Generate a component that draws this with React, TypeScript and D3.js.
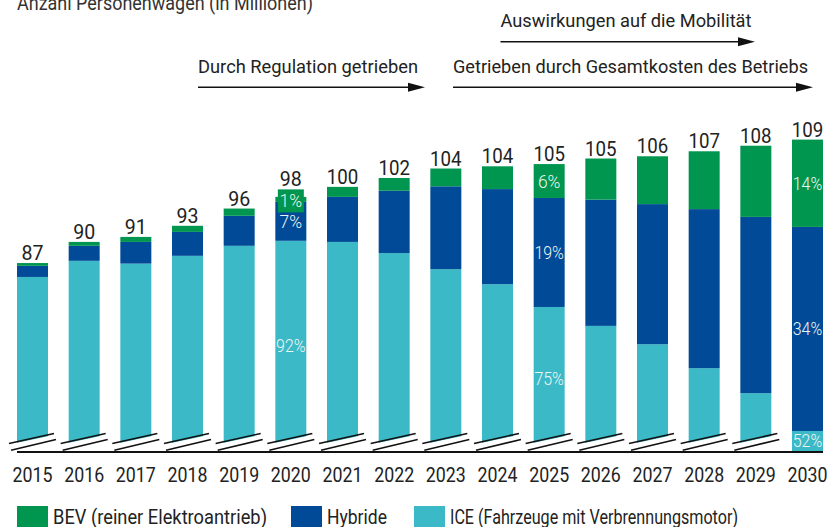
import React from "react";
import * as d3 from "d3";

const years = ["2015","2016","2017","2018","2019","2020","2021","2022","2023","2024","2025","2026","2027","2028","2029","2030"];
const ice = [84.3, 87.2, 86.7, 88.1, 89.9, 90.8, 90.6, 88.6, 85.7, 83.0, 78.9, 75.5, 72.2, 67.9, 63.4, 56.6];
const hybrid = [2.0, 2.7, 3.9, 4.3, 5.4, 7.0, 8.1, 11.2, 14.9, 17.1, 19.6, 22.7, 25.2, 28.6, 31.7, 36.7];
const bev = [0.5, 0.7, 0.9, 1.1, 1.3, 0.9, 1.8, 2.3, 3.2, 4.1, 6.1, 7.4, 8.6, 10.4, 12.8, 15.7];
const totals = [87, 90, 91, 93, 96, 98, 100, 102, 104, 104, 105, 105, 106, 107, 108, 109];

const seriesKeys = ["ice", "hybrid", "bev"];
const legendKeys = ["bev", "hybrid", "ice"];
const seriesNames = ["BEV (reiner Elektroantrieb)", "Hybride", "ICE (Fahrzeuge mit Verbrennungsmotor)"];

const pctLabels = [
  { year: "2020", key: "bev", text: "1%", boxed: true },
  { year: "2020", key: "hybrid", text: "7%" },
  { year: "2020", key: "ice", text: "92%" },
  { year: "2025", key: "bev", text: "6%" },
  { year: "2025", key: "hybrid", text: "19%" },
  { year: "2025", key: "ice", text: "75%" },
  { year: "2030", key: "bev", text: "14%" },
  { year: "2030", key: "hybrid", text: "34%" },
  { year: "2030", key: "ice", text: "52%" },
];

const title = "Anzahl Personenwagen (in Millionen)";
const annotations = [
  "Auswirkungen auf die Mobilität",
  "Durch Regulation getrieben",
  "Getrieben durch Gesamtkosten des Betriebs",
];
const breakYears = years.slice(0, 15);

const colors: Record<string, string> = { bev: "#00964f", hybrid: "#004a97", ice: "#3cb9c6" };
const FONT = "'Roboto', 'Liberation Sans', sans-serif";

function T(props: any) {
  const { w, children, ...rest } = props;
  return (
    <text {...rest} textLength={w} lengthAdjust="spacingAndGlyphs">{children}</text>
  );
}

export default function App() {
  const W = 835, H = 527;
  const x = d3.scaleBand<string>().domain(years).range([17, 823]).paddingInner(0.4).paddingOuter(0);
  const y = d3.scaleLinear().domain([53, 109]).range([451, 139.6]);
  const bw = x.bandwidth();

  const table = years.map((yr, i) => ({ year: yr, ice: ice[i], hybrid: hybrid[i], bev: bev[i] }));
  const stack = d3.stack<any>().keys(seriesKeys)(table);
  const segOf = (yr: string, key: string) => {
    const s = stack.find((d) => d.key === key)!;
    return s[years.indexOf(yr)];
  };
  const bottomY = y(53);

  const annGeom = [
    { x0: 500.5, x1: 755, ly: 41.7, ty: 27, w: 251 },
    { x0: 198, x1: 425, ly: 87.3, ty: 73, w: 220 },
    { x0: 453, x1: 813, ly: 87.3, ty: 73, w: 355 },
  ];
  const legendGeom = [
    { x: 17, w: 214 },
    { x: 291, w: 60 },
    { x: 414, w: 288 },
  ];

  return (
    <div style={{ position: "absolute", left: 0, top: 0 }}>
      <svg width={W} height={H} style={{ display: "block", fontFamily: FONT, fontWeight: 400 }}>
        <rect width={W} height={H} fill="#fff" />
        <T x={17} y={9.5} fontSize={21} fill="#333" w={296}>{title}</T>

        {stack.map((s) => (
          <g key={s.key} fill={colors[s.key]}>
            {s.map((d, i) => (
              <rect key={i} x={x(years[i])} width={bw} y={y(d[1])} height={Math.max(0, y(Math.max(53, d[0])) - y(d[1]))} />
            ))}
          </g>
        ))}

        {breakYears.map((yr) => {
          const x0 = x(yr)!, x1 = x0 + bw;
          return (
            <g key={yr}>
              <polygon points={`${x0 - 1},${bottomY} ${x0 - 1},${443} ${x1 + 1},${436} ${x1 + 1},${bottomY}`} fill="#fff" />
              <line x1={x0 - 8} y1={443.5} x2={x1 + 6} y2={433.5} stroke="#111" strokeWidth={1.6} />
              <line x1={x0 - 6} y1={450.3} x2={x1 + 8} y2={439.5} stroke="#111" strokeWidth={1.6} />
            </g>
          );
        })}

        <line x1={17} x2={823} y1={452} y2={452} stroke="#111" strokeWidth={2.2} />

        {years.map((yr, i) => {
          const top = y(ice[i] + hybrid[i] + bev[i]);
          const by = yr === "2020" ? 186 : top - 3;
          const label = String(totals[i]);
          return (
            <T key={yr} x={x(yr)! + bw / 2} y={by} textAnchor="middle" fontSize={21} fill="#222" w={label.length === 2 ? 22 : 31.5}>{label}</T>
          );
        })}

        {pctLabels.map((p, k) => {
          const seg = segOf(p.year, p.key);
          const cx = x(p.year)! + bw / 2;
          const cy = (y(Math.max(53, seg[0])) + y(seg[1])) / 2;
          const w = p.text.length === 2 ? 22.5 : 29.5;
          if (p.boxed) {
            return (
              <g key={k}>
                <rect x={cx - 13} y={cy - 10} width={26} height={23} fill={colors[p.key]} />
                <T x={cx} y={cy + 1.5} textAnchor="middle" dominantBaseline="central" fontSize={18} fontWeight={300} fill="#eef6f2" w={w}>{p.text}</T>
              </g>
            );
          }
          return (
            <T key={k} x={cx} y={cy} textAnchor="middle" dominantBaseline="central" fontSize={18} fontWeight={300} fill="#eef6f2" w={w}>{p.text}</T>
          );
        })}

        {years.map((yr) => (
          <T key={yr} x={x(yr)! + bw / 2} y={481.5} textAnchor="middle" fontSize={21} fill="#222" w={40}>{yr}</T>
        ))}

        {annotations.map((a, k) => {
          const g = annGeom[k];
          return (
            <g key={k}>
              <T x={g.x0} y={g.ty} fontSize={19} fill="#222" w={g.w}>{a}</T>
              <line x1={g.x0} x2={g.x1 - 14} y1={g.ly} y2={g.ly} stroke="#111" strokeWidth={1.5} />
              <polygon points={`${g.x1 - 17},${g.ly - 4.5} ${g.x1},${g.ly} ${g.x1 - 17},${g.ly + 4.5}`} fill="#111" />
            </g>
          );
        })}

        {legendKeys.map((k, i) => {
          const g = legendGeom[i];
          return (
            <g key={k}>
              <rect x={g.x} y={506} width={bw} height={31} fill={colors[k]} />
              <T x={g.x + bw + 5} y={524} fontSize={21} fill="#222" w={g.w}>{seriesNames[i]}</T>
            </g>
          );
        })}
      </svg>
    </div>
  );
}
